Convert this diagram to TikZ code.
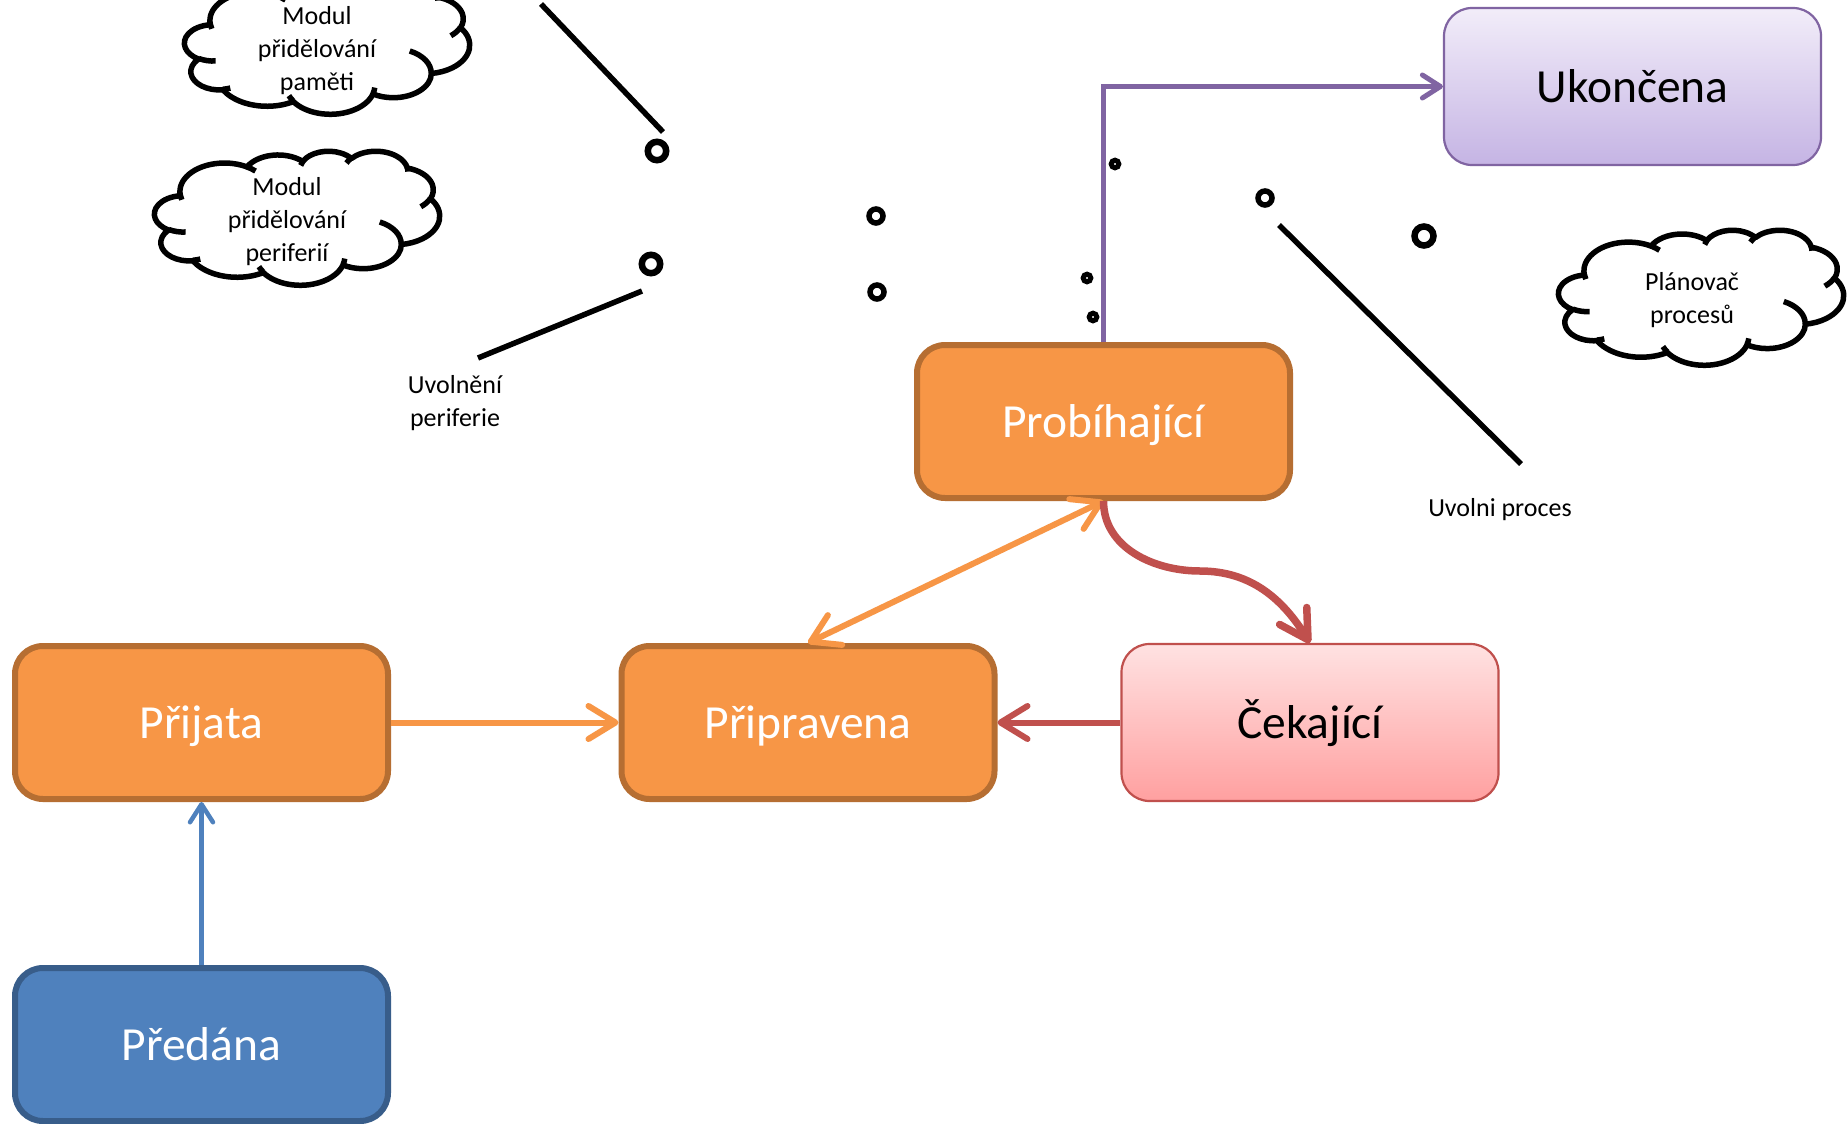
\documentclass[tikz,border=0pt]{standalone}
\usepackage{fontspec}
\setmainfont{Carlito}
\usetikzlibrary{arrows.meta}
\definecolor{orfill}{RGB}{247,150,70}
\definecolor{orline}{RGB}{182,110,50}
\definecolor{blfill}{RGB}{79,129,189}
\definecolor{blline}{RGB}{56,93,138}
\definecolor{redc}{RGB}{192,80,77}
\definecolor{purc}{RGB}{128,100,162}
\definecolor{pinktop}{RGB}{255,226,226}
\definecolor{pinkbot}{RGB}{255,160,160}
\definecolor{lavtop}{RGB}{242,237,249}
\definecolor{lavbot}{RGB}{197,180,228}

\tikzset{
  statebox/.style={rounded corners=28pt, inner sep=0pt, font=\fontsize{47.5}{56}\selectfont, text height=31pt, text depth=0pt},
  thickbox/.style={statebox, line width=6pt, minimum width=373pt, minimum height=153pt, text=white},
  orangebox/.style={thickbox, fill=orfill, draw=orline},
  bluebox/.style={thickbox, fill=blfill, draw=blline},
  thinbox/.style={statebox, line width=2.2pt, minimum width=377pt, minimum height=157pt, text=black},
  pinkbox/.style={thinbox, draw=redc, top color=pinktop, bottom color=pinkbot},
  lavbox/.style={thinbox, draw=purc, top color=lavtop, bottom color=lavbot},
  smalltext/.style={font=\fontsize{26}{33}\selectfont, align=center, inner sep=0pt},
  cloudline/.style={line width=5.5pt, draw=black, line join=round},
  blackline/.style={line width=5.5pt, draw=black},
  orangearrow/.style={draw=orfill, line width=6pt, -{Straight Barb[length=27pt,width=33pt,round]}},
  orangedouble/.style={draw=orfill, line width=6pt, {Straight Barb[length=27pt,width=33pt,round]}-{Straight Barb[length=27pt,width=33pt,round]}},
  redarrow/.style={draw=redc, line width=6pt, -{Straight Barb[length=27pt,width=33pt,round]}},
  redcurve/.style={draw=redc, line width=7.5pt, -{Straight Barb[length=28pt,width=32pt,round]}},
  bluearrow/.style={draw=blfill, line width=4.5pt, -{Straight Barb[length=18pt,width=23pt,round]}},
  purplearrow/.style={draw=purc, line width=5pt, -{Straight Barb[length=18pt,width=23pt,round]}},
  oa/.style n args={4}{insert path={arc[x radius=#1, y radius=#2, start angle={-pcv(#1,#2,#3)}, delta angle={-pdl(#1,#2,#3,#4)}]}}
}

\newcommand{\officecloud}[4]{%
\begin{scope}[shift={(#1,#2)}, xscale=#3/43.2, yscale=#4/43.2]
\filldraw[cloudline, fill=white] (3.9,-14.37)
  [oa={6.753}{9.19}{-190.4875}{123.7805}]
  [oa={5.333}{7.267}{-144.1024}{89.9452}]
  [oa={4.365}{5.945}{-145.8079}{99.7230}]
  [oa={4.857}{6.595}{-130.9861}{117.2417}]
  [oa={5.333}{7.273}{-78.7089}{109.0269}]
  [oa={6.775}{9.22}{-46.2673}{130.2690}]
  [oa={5.785}{7.867}{0.6250}{114.0333}]
  [oa={6.752}{9.215}{22.4516}{115.1726}]
  [oa={7.72}{10.543}{66.2426}{75.7110}]
  [oa={4.36}{5.918}{-274.9421}{146.7356}]
  [oa={4.345}{5.945}{-246.8285}{152.5226}] -- cycle;
\draw[cloudline]
  (4.693,-26.177) [oa={4.345}{5.945}{86.742}{26.4295}]
  (6.928,-34.899) [oa={4.36}{5.918}{73.6105}{11.4475}]
  (16.478,-39.09) [oa={6.752}{9.215}{137.6242}{14.0811}]
  (28.827,-34.751) [oa={6.752}{9.215}{6.4533}{15.9984}]
  (34.129,-22.954) [oa={5.785}{7.867}{-70.2924}{70.9174}]
  (41.798,-15.354) [oa={5.333}{7.273}{30.3180}{27.7515}]
  (38.324,-5.426) [oa={4.857}{6.595}{-13.7443}{14.857}]
  (29.078,-3.952) [oa={4.857}{6.595}{-149.1815}{18.1876}]
  (22.141,-4.72) [oa={4.365}{5.945}{-163.4943}{17.6852}]
  (14.0,-5.192) [oa={6.753}{9.19}{-66.7070}{12.3194}]
  (4.127,-15.789) [oa={6.753}{9.19}{157.6544}{11.8582}];
\end{scope}}

\begin{document}
\begin{tikzpicture}[x=1pt, y=1pt,
  declare function={
    pcv(\pA,\pB,\pT)=atan2((\pA)*sin(\pT),(\pB)*cos(\pT));
    pdl(\qA,\qB,\qT,\qS)=pcv(\qA,\qB,\qT+\qS)-pcv(\qA,\qB,\qT)+360*round((\qS-pcv(\qA,\qB,\qT+\qS)+pcv(\qA,\qB,\qT))/360);
  }]
\useasboundingbox (0,0) rectangle (1847,-1124);
\fill[white] (0,0) rectangle (1847,-1124);

% clouds
\officecloud{184.6}{20.2}{285}{134}
\officecloud{154.6}{-150.8}{285}{134}
\officecloud{1558.6}{-229.8}{285}{135}
\node[smalltext] (c1t) at (317,-51) {Modul\\přidělování\\paměti};
\node[smalltext] (c2t) at (287,-222) {Modul\\přidělování\\periferií};
\node[smalltext] (c3t) at (1692,-300) {Plánovač\\procesů};

% free black lines
\coordinate (la1) at (541,-4);   \coordinate (la2) at (663,-132);
\coordinate (lb1) at (642,-291); \coordinate (lb2) at (478,-358);
\coordinate (lc1) at (1279,-225); \coordinate (lc2) at (1521,-464);
\draw[blackline] (la1) -- (la2);
\draw[blackline] (lb1) -- (lb2);
\draw[blackline] (lc1) -- (lc2);

% rings and dots
\draw[line width=6.5pt] (657,-151) circle[radius=9.2];
\draw[line width=6.5pt] (651,-264) circle[radius=9.2];
\draw[line width=5.5pt] (876,-216) circle[radius=7];
\draw[line width=5.5pt] (877,-292) circle[radius=7];
\draw[line width=5.5pt] (1265,-198) circle[radius=7];
\draw[line width=6.5pt] (1424,-236) circle[radius=9.5];
\draw[line width=5pt] (1115,-164) circle[radius=3.8];
\draw[line width=5pt] (1087,-278) circle[radius=3.8];
\draw[line width=5pt] (1093,-317) circle[radius=3.8];

% labels
\node[smalltext] (uvper) at (455,-403) {Uvolnění\\periferie};
\node[smalltext] (uvpro) at (1500,-510) {Uvolni proces};

% state boxes
\node[orangebox] (prij) at (201.5,-722.5) {Přijata};
\node[orangebox] (prip) at (808,-722.5) {Připravena};
\node[pinkbox] (cek) at (1310,-722.5) {Čekající};
\node[orangebox] (prob) at (1103.5,-421.5) {Probíhající};
\node[lavbox] (ukon) at (1632.5,-86.5) {Ukončena};
\node[bluebox] (pred) at (201.5,-1044.5) {Předána};

% connectors
\draw[bluearrow] (pred.north) -- (prij.south);
\draw[orangearrow] (prij.east) -- (prip.west);
\draw[redarrow] (cek.west) -- (prip.east);
\draw[orangedouble] (prip.north) -- (prob.south);
\coordinate (bend) at (1200,-571);
\draw[redcurve] (prob.south) to[out=-90,in=180] (bend) to[out=0,in=122] (cek.north);
\draw[purplearrow] (prob.north) |- (ukon.west);
\end{tikzpicture}
\end{document}
